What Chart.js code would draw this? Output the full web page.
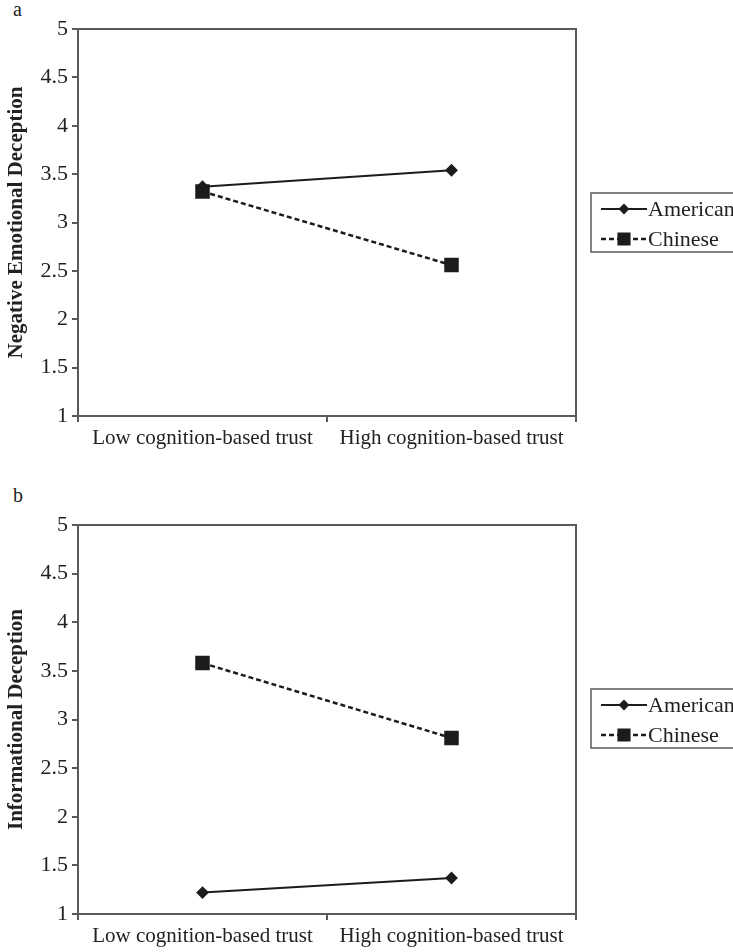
<!DOCTYPE html>
<html>
<head>
<meta charset="utf-8">
<script src="https://cdn.jsdelivr.net/npm/chart.js@4.4.1/dist/chart.umd.min.js"></script>
<style>
  html, body { margin: 0; padding: 0; background: #fff; overflow: hidden; }
  #wrap { position: relative; width: 733px; height: 952px; }
  canvas { position: absolute; left: 0; }
  .tag { position: absolute; left: 13px; font: 20px "Liberation Serif", serif; color: #222; }
</style>
</head>
<body>
<div id="wrap">
  <div class="tag" style="top:-2px">a</div>
  <canvas id="chartA" width="733" height="454" style="top:0px"></canvas>
  <div class="tag" style="top:484px">b</div>
  <canvas id="chartB" width="733" height="456" style="top:496px"></canvas>
</div>
<script>
// data
const categories = ["Low cognition-based trust", "High cognition-based trust"];
const seriesNames = ["American", "Chinese"];
const americanA = [3.37, 3.54];
const chineseA = [3.32, 2.56];
const americanB = [1.22, 1.37];
const chineseB = [3.58, 2.81];
const yMin = 1, yMax = 5, yStep = 0.5;

const ink = "#1c1c1c";
const axisGray = "#5a5a5a";
const serif = "'Liberation Serif', 'Times New Roman', serif";

// plot frame (top + right edges)
const framePlugin = {
  id: "frame",
  afterDraw(chart) {
    const { ctx, chartArea: a } = chart;
    ctx.save();
    ctx.strokeStyle = axisGray;
    ctx.lineWidth = 2;
    ctx.beginPath();
    ctx.moveTo(a.left, a.top);
    ctx.lineTo(a.right, a.top);
    ctx.lineTo(a.right, a.bottom);
    ctx.stroke();
    ctx.restore();
  }
};

// boxed legend with line + marker samples
const boxLegendPlugin = {
  id: "boxLegend",
  afterDraw(chart, args, opts) {
    const { ctx } = chart;
    ctx.save();
    ctx.strokeStyle = axisGray;
    ctx.lineWidth = 1.5;
    ctx.strokeRect(opts.x, opts.y, opts.w, opts.h);
    ctx.font = "22px " + serif;
    ctx.textBaseline = "middle";
    chart.data.datasets.forEach((ds, i) => {
      const cy = opts.y + 16 + i * 30;
      ctx.strokeStyle = ds.borderColor;
      ctx.lineWidth = ds.borderWidth;
      ctx.setLineDash(ds.borderDash || []);
      ctx.beginPath();
      ctx.moveTo(opts.x + 10, cy);
      ctx.lineTo(opts.x + 56, cy);
      ctx.stroke();
      ctx.setLineDash([]);
      ctx.fillStyle = ink;
      ctx.strokeStyle = ink;
      Chart.helpers.drawPoint(ctx, {
        pointStyle: ds.pointStyle, radius: ds.pointRadius - 1, rotation: 0, borderWidth: 1
      }, opts.x + 33, cy);
      ctx.fillStyle = "#222";
      ctx.fillText(ds.label, opts.x + 57, cy + 1);
    });
    ctx.restore();
  }
};

function makeChart(id, american, chinese, yTitle) {
  const ctx = document.getElementById(id).getContext("2d");
  return new Chart(ctx, {
    type: "line",
    data: {
      labels: categories,
      datasets: [{
        label: seriesNames[0],
        data: american,
        borderColor: ink,
        borderWidth: 2,
        pointStyle: "rectRot",
        pointRadius: 5,
        pointBackgroundColor: ink,
        pointBorderColor: ink,
        tension: 0
      }, {
        label: seriesNames[1],
        data: chinese,
        borderColor: ink,
        borderWidth: 2.5,
        borderDash: [5, 3],
        pointStyle: "rect",
        pointRadius: 8.5,
        pointBackgroundColor: ink,
        pointBorderColor: ink,
        tension: 0
      }]
    },
    options: {
      responsive: false,
      animation: false,
      devicePixelRatio: 1,
      layout: { padding: { top: 29, right: 157, left: 0, bottom: 0 } },
      plugins: {
        legend: { display: false },
        tooltip: { enabled: false },
        boxLegend: { x: 591, y: 193, w: 170, h: 59 }
      },
      scales: {
        x: {
          type: "category",
          offset: true,
          afterFit: s => { s.height = 38; },
          grid: { offset: true, drawOnChartArea: false, drawTicks: true, tickLength: 6, color: axisGray, lineWidth: 2 },
          border: { color: axisGray, width: 2 },
          ticks: { color: "#222", font: { family: serif, size: 21 }, padding: 4, maxRotation: 0, autoSkip: false }
        },
        y: {
          min: yMin,
          max: yMax,
          afterFit: s => { s.width = 78; },
          grid: { drawOnChartArea: false, drawTicks: true, tickLength: 6, color: axisGray, lineWidth: 2 },
          border: { color: axisGray, width: 2 },
          ticks: { stepSize: yStep, color: "#222", font: { family: serif, size: 22 }, padding: 4,
                   callback: v => String(+v.toFixed(1)) },
          title: { display: true, text: yTitle, color: "#222", font: { family: serif, size: 21, weight: "bold" }, padding: { top: 4, bottom: 0 } }
        }
      }
    },
    plugins: [framePlugin, boxLegendPlugin]
  });
}

makeChart("chartA", americanA, chineseA, "Negative Emotional Deception");
makeChart("chartB", americanB, chineseB, "Informational Deception");
</script>
</body>
</html>
